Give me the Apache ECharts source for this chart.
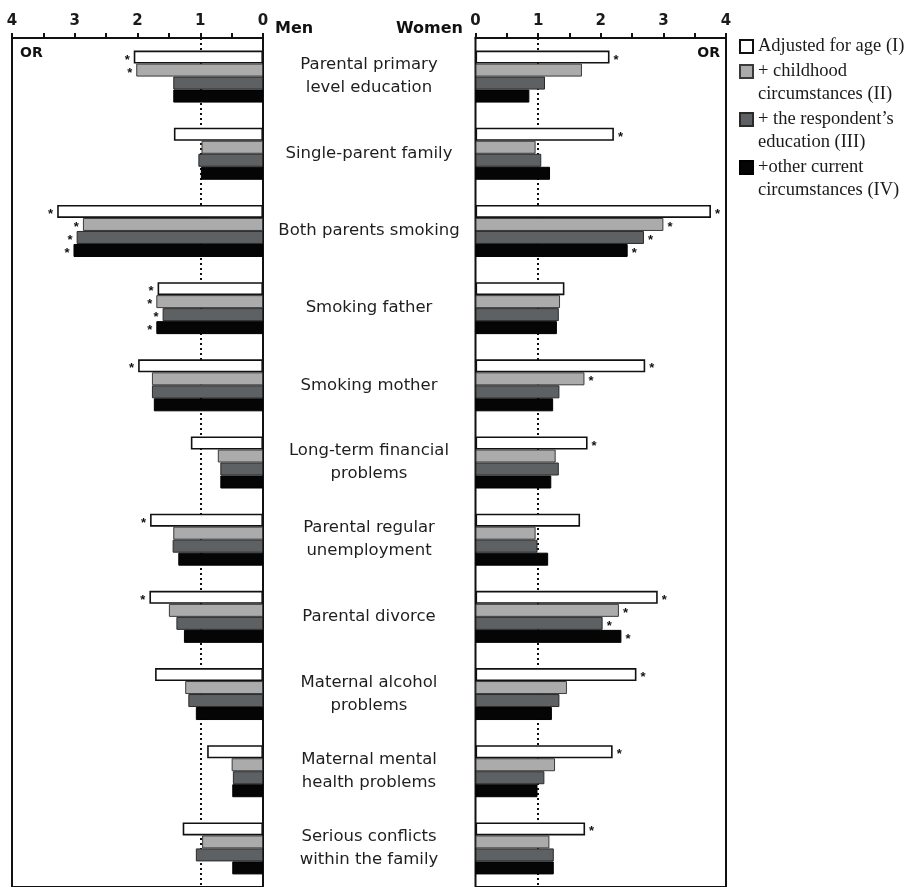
<!DOCTYPE html>
<html>
<head>
<meta charset="utf-8">
<script src="https://cdn.jsdelivr.net/npm/echarts@6/dist/echarts.min.js"></script>
<style>
  html, body { margin: 0; padding: 0; background: #fff; }
  #chart { width: 913px; height: 887px; }
</style>
</head>
<body>
<div id="chart"></div>
<script>
// Childhood circumstances and odds ratios (OR) for men and women
const categories = [
  'Parental primary\nlevel education',
  'Single-parent family',
  'Both parents smoking',
  'Smoking father',
  'Smoking mother',
  'Long-term financial\nproblems',
  'Parental regular\nunemployment',
  'Parental divorce',
  'Maternal alcohol\nproblems',
  'Maternal mental\nhealth problems',
  'Serious conflicts\nwithin the family'
];

const seriesNames = [
  'Adjusted for age (I)',
  '+ childhood\ncircumstances (II)',
  '+ the respondent\u2019s\neducation (III)',
  '+other current\ncircumstances (IV)'
];

// Men: odds ratios per model
const menI   = [2.06, 1.42, 3.28, 1.68, 1.99, 1.15, 1.80, 1.81, 1.72, 0.89, 1.28];
const menII  = [2.02, 0.98, 2.87, 1.70, 1.77, 0.72, 1.43, 1.50, 1.24, 0.50, 0.97];
const menIII = [1.43, 1.03, 2.97, 1.60, 1.77, 0.68, 1.44, 1.38, 1.19, 0.48, 1.07];
const menIV  = [1.43, 0.99, 3.02, 1.70, 1.74, 0.68, 1.35, 1.26, 1.07, 0.49, 0.49];

// Women: odds ratios per model
const womenI   = [2.14, 2.21, 3.76, 1.42, 2.71, 1.79, 1.67, 2.91, 2.57, 2.19, 1.75];
const womenII  = [1.70, 0.96, 3.00, 1.35, 1.74, 1.28, 0.96, 2.29, 1.46, 1.27, 1.18];
const womenIII = [1.11, 1.05, 2.69, 1.33, 1.34, 1.33, 0.99, 2.03, 1.34, 1.10, 1.25];
const womenIV  = [0.86, 1.19, 2.43, 1.30, 1.24, 1.21, 1.16, 2.33, 1.22, 0.99, 1.25];

// Statistical significance markers (1 = *)
const menSigI   = [1, 0, 1, 1, 1, 0, 1, 1, 0, 0, 0];
const menSigII  = [1, 0, 1, 1, 0, 0, 0, 0, 0, 0, 0];
const menSigIII = [0, 0, 1, 1, 0, 0, 0, 0, 0, 0, 0];
const menSigIV  = [0, 0, 1, 1, 0, 0, 0, 0, 0, 0, 0];

const womenSigI   = [1, 1, 1, 0, 1, 1, 0, 1, 1, 1, 1];
const womenSigII  = [0, 0, 1, 0, 1, 0, 0, 1, 0, 0, 0];
const womenSigIII = [0, 0, 1, 0, 0, 0, 0, 1, 0, 0, 0];
const womenSigIV  = [0, 0, 1, 0, 0, 0, 0, 1, 0, 0, 0];

const axisTicks = [0, 1, 2, 3, 4];

const SANS = 'Liberation Sans, Arial, sans-serif';
const WIDE_SANS = 'DejaVu Sans, Liberation Sans, sans-serif';
const SERIF = 'Liberation Serif, Times New Roman, serif';
const fills = ['#ffffff', '#ababab', '#5d6163', '#050505'];
const borders = ['#111111', '#3a3a3a', '#2a2a2a', '#000000'];

const menData = [menI, menII, menIII, menIV];
const womenData = [womenI, womenII, womenIII, womenIV];
const menSig = [menSigI, menSigII, menSigIII, menSigIV];
const womenSig = [womenSigI, womenSigII, womenSigIII, womenSigIV];

function valueAxis(gridIndex, inverse) {
  return {
    type: 'value',
    gridIndex: gridIndex,
    position: 'top',
    inverse: inverse,
    min: axisTicks[0],
    max: axisTicks[axisTicks.length - 1],
    interval: 1,
    axisLine: { show: true, lineStyle: { color: '#111', width: 2 } },
    axisTick: { show: true, inside: false, length: 5, lineStyle: { color: '#111', width: 2 } },
    minorTick: { show: true, splitNumber: 2, length: 5, lineStyle: { color: '#111', width: 2 } },
    axisLabel: {
      margin: 9,
      fontFamily: WIDE_SANS,
      fontSize: 15,
      fontWeight: 'bold',
      color: '#1a1a1a'
    },
    splitLine: { show: false }
  };
}

function dottedOne() {
  return {
    silent: true,
    symbol: 'none',
    z: 1,
    label: { show: false },
    lineStyle: { type: [2, 3], width: 2, color: '#111' },
    data: [{ xAxis: 1 }]
  };
}

function starLabel(position, flags) {
  return {
    show: true,
    position: position,
    distance: 4,
    offset: [0, 3],
    fontFamily: SANS,
    fontSize: 13,
    fontWeight: 'bold',
    color: '#111',
    formatter: function (p) { return flags[p.dataIndex] ? '*' : ''; }
  };
}

const series = [];
seriesNames.forEach(function (name, k) {
  const style = { color: fills[k], borderColor: borders[k], borderWidth: k === 0 ? 1.6 : 1 };
  series.push({
    name: name, type: 'bar', xAxisIndex: 0, yAxisIndex: 0,
    data: menData[k], barWidth: 13, barGap: '0%', z: 3,
    itemStyle: style,
    label: starLabel('left', menSig[k]),
    markLine: k === 0 ? dottedOne() : undefined
  });
  series.push({
    name: name, type: 'bar', xAxisIndex: 1, yAxisIndex: 1,
    data: womenData[k], barWidth: 13, barGap: '0%', z: 3,
    itemStyle: style,
    label: starLabel('right', womenSig[k]),
    markLine: k === 0 ? dottedOne() : undefined
  });
});

const option = {
  backgroundColor: '#ffffff',
  animation: false,
  grid: [
    { left: 12, top: 38, width: 251, height: 851, show: true, borderColor: '#111', borderWidth: 2, backgroundColor: 'transparent' },
    { left: 475.5, top: 38, width: 250.5, height: 851, show: true, borderColor: '#111', borderWidth: 2, backgroundColor: 'transparent' }
  ],
  xAxis: [valueAxis(0, true), valueAxis(1, false)],
  yAxis: [
    {
      type: 'category',
      gridIndex: 0,
      data: categories,
      inverse: true,
      position: 'right',
      axisLine: { show: false },
      axisTick: { show: false },
      axisLabel: {
        margin: 106,
        align: 'center',
        fontFamily: WIDE_SANS,
        fontSize: 16.5,
        lineHeight: 23,
        color: '#1e1e1e'
      }
    },
    {
      type: 'category',
      gridIndex: 1,
      data: categories,
      inverse: true,
      axisLine: { show: false },
      axisTick: { show: false },
      axisLabel: { show: false }
    }
  ],
  legend: {
    orient: 'vertical',
    left: 734,
    top: 30,
    itemWidth: 13,
    itemHeight: 13,
    itemGap: -21,
    icon: 'rect',
    selectedMode: false,
    // two-line entries get an empty first line so the icon sits beside the first text line
    formatter: function (name) { return name.indexOf('\n') >= 0 ? '\n' + name : name; },
    textStyle: {
      fontFamily: SERIF,
      fontSize: 18.5,
      lineHeight: 23,
      color: '#1a1a1a',
      padding: [0, 0, 0, 0]
    },
    data: seriesNames
  },
  graphic: [
    { type: 'text', left: 275, top: 21, style: { text: 'Men', font: 'bold 16px ' + WIDE_SANS, fill: '#111' } },
    { type: 'text', right: 913 - 463, top: 21, style: { text: 'Women', font: 'bold 16px ' + WIDE_SANS, fill: '#111' } },
    { type: 'text', left: 20, top: 46, style: { text: 'OR', font: 'bold 14px ' + WIDE_SANS, fill: '#111' } },
    { type: 'text', right: 913 - 720, top: 46, style: { text: 'OR', font: 'bold 14px ' + WIDE_SANS, fill: '#111' } }
  ],
  series: series
};

const chart = echarts.init(document.getElementById('chart'), null, { renderer: 'canvas' });
chart.setOption(option);
</script>
</body>
</html>
